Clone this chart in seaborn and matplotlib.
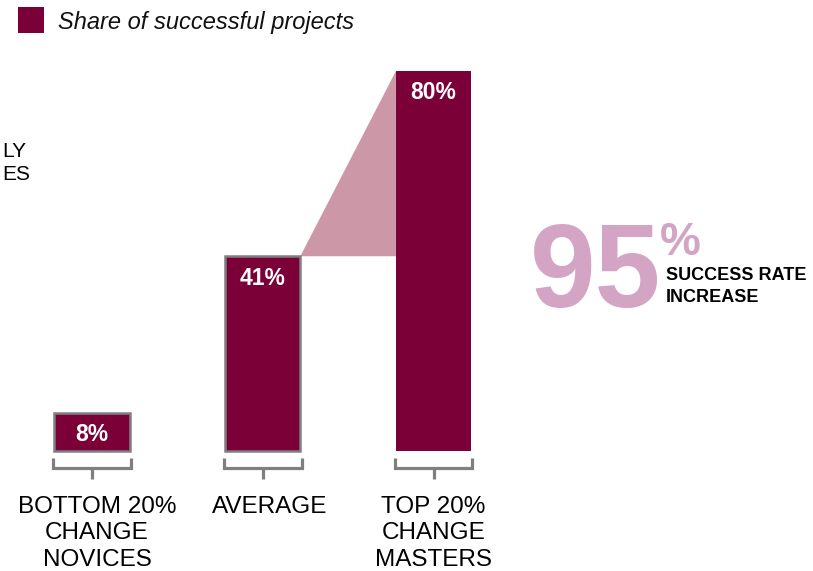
import matplotlib
matplotlib.use("Agg")
import matplotlib.pyplot as plt
from matplotlib.patches import Rectangle, Polygon
import seaborn as sns

# Share of successful projects by change-management maturity
categories = ["BOTTOM 20%\nCHANGE\nNOVICES", "AVERAGE", "TOP 20%\nCHANGE\nMASTERS"]
values = [8, 41, 80]
value_labels = ["8%", "41%", "80%"]
increase_label = "95"
legend_label = "Share of successful projects"

BAR = "#7a0037"
EDGE = "#7f7f7f"
WEDGE = "#cc97a7"
BIG = "#d4a4c5"

sns.set_theme(style="white")
plt.rcParams["font.family"] = ["Liberation Sans", "DejaVu Sans"]

W, H = 813, 571
fig = plt.figure(figsize=(W / 100, H / 100), dpi=100)
ax = fig.add_axes([0, 0, 1, 1])

bar_w = 0.44
sns.barplot(x=categories, y=values, color=BAR, saturation=1, width=bar_w,
            ax=ax, zorder=2)

# gray outline on the first two bars
for i, p in enumerate(ax.patches[:len(values)]):
    if i < 2:
        p.set_edgecolor(EDGE)
        p.set_linewidth(1.8)
    else:
        p.set_linewidth(0)

# wedge connecting the average and the top bar
tri = Polygon([(1 + bar_w / 2, values[1]), (2 - bar_w / 2, values[2]),
               (2 - bar_w / 2, values[1])], closed=True,
              facecolor=WEDGE, edgecolor="none", zorder=1)
ax.add_patch(tri)

# value labels inside bars
for i, (v, lab) in enumerate(zip(values, value_labels)):
    ax.text(i, v - 4.6, lab, ha="center", va="center", color="white",
            fontsize=16.5, fontweight="bold", zorder=3)

# brackets and category labels below bars
half = 0.228
label_dx = [0.03, 0.04, 0.0]
for i, cat in enumerate(categories):
    ax.plot([i - half, i - half, i + half, i + half],
            [-1.4, -3.6, -3.6, -1.4], color=EDGE, lw=2.3,
            solid_joinstyle="miter", solid_capstyle="butt", clip_on=False)
    ax.plot([i, i], [-3.6, -5.9], color=EDGE, lw=2.3,
            solid_capstyle="butt", clip_on=False)
    ax.text(i + label_dx[i], -9.5, cat, ha="center", va="top", fontsize=17.5,
            color="black", linespacing=1.25)

# axis limits map the category positions onto the canvas
unit = 170.75
ax.set_xlim(-92 / unit, (W - 92) / unit)
ax.set_ylim(-120 / 4.75, 451 / 4.75)
ax.axis("off")

# legend
fig.patches.append(Rectangle((18 / W, 1 - 33 / H), 26 / W, 26 / H,
                             transform=fig.transFigure, facecolor=BAR,
                             edgecolor="none"))
fig.text(58 / W, 1 - 23 / H, legend_label, ha="left", va="center",
         fontsize=17, style="italic", color="#111111")

# left-hand note fragments at the canvas edge
fig.text(26 / W, 1 - 157 / H, "LY", ha="right", va="baseline",
         fontsize=15, color="black")
fig.text(30 / W, 1 - 180 / H, "ES", ha="right", va="baseline",
         fontsize=15, color="black")

# headline increase
fig.text(530 / W, 1 - 307 / H, increase_label, ha="left", va="baseline",
         fontsize=85, fontweight="bold", color=BIG)
fig.text(660 / W, 1 - 255 / H, "%", ha="left", va="baseline",
         fontsize=33, fontweight="bold", color=BIG)
fig.text(666 / W, 1 - 280 / H, "SUCCESS RATE", ha="left", va="baseline",
         fontsize=13, fontweight="bold", color="black")
fig.text(666 / W, 1 - 302 / H, "INCREASE", ha="left", va="baseline",
         fontsize=13, fontweight="bold", color="black")

fig.savefig("out.png", dpi=100)
